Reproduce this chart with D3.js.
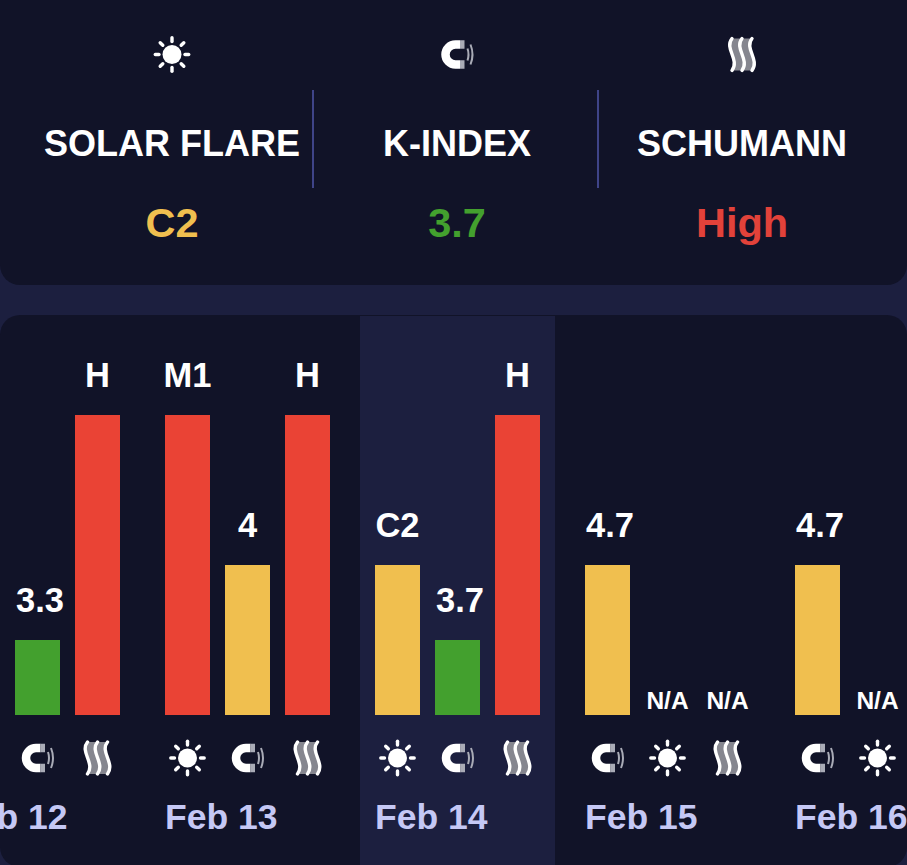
<!DOCTYPE html>
<html>
<head>
<meta charset="utf-8">
<script src="https://cdn.jsdelivr.net/npm/d3@7/dist/d3.min.js"></script>
<style>
  html, body { margin: 0; padding: 0; background: #1c1f3f; overflow: hidden; }
  svg { display: block; }
  text { font-family: "Liberation Sans", sans-serif; font-weight: 700; }
</style>
</head>
<body>
<svg id="chart" width="907" height="865"></svg>
<script>
const headerLabels = ["SOLAR FLARE", "K-INDEX", "SCHUMANN"];
const headerValues = ["C2", "3.7", "High"];
const headerKinds = ["solar", "kindex", "schumann"];
const headerColors = ["#f0bf4f", "#43a02e", "#e2423a"];

const days = ["Feb 12", "Feb 13", "Feb 14", "Feb 15", "Feb 16"];
const highlightDay = "Feb 14";

// one row per bar, slot is the position inside the day
const barDays = ["Feb 12", "Feb 12", "Feb 13", "Feb 13", "Feb 13", "Feb 14", "Feb 14", "Feb 14", "Feb 15", "Feb 15", "Feb 15", "Feb 16", "Feb 16"];
const barSlots = [1, 2, 0, 1, 2, 0, 1, 2, 0, 1, 2, 0, 1];
const barKinds = ["kindex", "schumann", "solar", "kindex", "schumann", "solar", "kindex", "schumann", "kindex", "solar", "schumann", "kindex", "solar"];
const barLabels = ["3.3", "H", "M1", "4", "H", "C2", "3.7", "H", "4.7", "N/A", "N/A", "4.7", "N/A"];
const barLevels = [1, 4, 4, 2, 4, 2, 1, 4, 2, 0, 0, 2, 0];

const levelColors = { 1: "#43a02e", 2: "#f0bf4f", 4: "#ea4335" };

const svg = d3.select("#chart");
const defs = svg.append("defs");

// icons, drawn around 0,0
const sun = defs.append("g").attr("id", "icon-solar");
sun.append("circle").attr("r", 9.5).attr("fill", "#fff");
d3.range(8).forEach((i) => {
  sun.append("line")
    .attr("y1", -13).attr("y2", -16.7)
    .attr("transform", `rotate(${i * 45})`)
    .attr("stroke", "#fff").attr("stroke-width", 3.4).attr("stroke-linecap", "round");
});

const magnet = defs.append("g").attr("id", "icon-kindex");
magnet.append("path")
  .attr("d", "M3 -10 H-1.5 A10 10 0 0 0 -1.5 10 H3")
  .attr("fill", "none").attr("stroke", "#fff").attr("stroke-width", 8.5);
magnet.append("path")
  .attr("d", "M3 -14.25 H7.5 V-5.75 H3 Z M3 5.75 H7.5 V14.25 H3 Z")
  .attr("fill", "#a9abb6");
magnet.append("path")
  .attr("d", "M10.5 -6 Q12.5 0 10.5 6 M13.5 -10 Q17.5 0 13.5 10")
  .attr("fill", "none").attr("stroke", "#a9abb6").attr("stroke-width", 2);

const waves = defs.append("g").attr("id", "icon-schumann");
const waveOffsets = [-10, 0, 10];
const waveLine = (dx) => `C${dx - 8} -6 ${dx + 8} 5 ${dx} 16`;
waveOffsets.slice(1).forEach((dx) => {
  waves.append("path")
    .attr("d", `M${dx - 10} -16 ${waveLine(dx - 10)} H${dx} C${dx + 8} 5 ${dx - 8} -6 ${dx} -16 Z`)
    .attr("fill", "#85868f");
});
waveOffsets.forEach((dx) => {
  waves.append("path")
    .attr("d", `M${dx} -16 ${waveLine(dx)}`)
    .attr("fill", "none").attr("stroke", "#fff").attr("stroke-width", 3.4).attr("stroke-linecap", "round");
});

// panels
svg.append("rect").attr("x", 0).attr("y", -30).attr("width", 907).attr("height", 315).attr("rx", 20).attr("fill", "#111328");
svg.append("rect").attr("x", 0).attr("y", 315).attr("width", 907).attr("height", 552).attr("rx", 20).attr("fill", "#111328");

// header
const headerX = d3.scalePoint().domain(headerLabels).range([172, 742]);
const header = svg.append("g").selectAll("g").data(headerLabels).join("g")
  .attr("transform", (d) => `translate(${headerX(d)},0)`);
header.append("use").attr("href", (d, i) => `#icon-${headerKinds[i]}`).attr("y", 54.5);
header.append("text").attr("y", 155.5).attr("text-anchor", "middle").attr("fill", "#fff").attr("font-size", 36).text((d) => d);
header.append("text").attr("y", 237).attr("text-anchor", "middle").attr("font-size", 41.5)
  .attr("fill", (d, i) => headerColors[i]).text((d, i) => headerValues[i]);

svg.append("g").selectAll("line").data(headerLabels.slice(1)).join("line")
  .attr("x1", (d) => headerX(d) - 144).attr("x2", (d) => headerX(d) - 144)
  .attr("y1", 90).attr("y2", 188)
  .attr("stroke", "#3f4488").attr("stroke-width", 2);

// chart scales
const dayX = d3.scaleBand().domain(days).range([-60, 990]);
const slotX = d3.scaleBand().domain([0, 1, 2]).range([15, 180]).paddingInner(0.25).paddingOuter(0);
const y = d3.scaleLinear().domain([0, 4]).range([715, 415]);

svg.append("rect")
  .attr("x", dayX(highlightDay)).attr("width", dayX.bandwidth() - 15)
  .attr("y", 316).attr("height", 549)
  .attr("fill", "#1c1f3f");

const barX = (i) => dayX(barDays[i]) + slotX(barSlots[i]);
const rows = d3.range(barDays.length);

svg.append("g").selectAll("rect").data(rows).join("rect")
  .attr("x", barX).attr("width", slotX.bandwidth())
  .attr("y", (i) => y(barLevels[i])).attr("height", (i) => y(0) - y(barLevels[i]))
  .attr("fill", (i) => levelColors[barLevels[i]] || "none");

// decimals sit a little right of the bar centre in the original
svg.append("g").selectAll("text").data(rows).join("text")
  .attr("x", (i) => barX(i) + slotX.bandwidth() / 2)
  .attr("dx", (i) => (barLabels[i].includes(".") ? 2.5 : 0))
  .attr("y", (i) => y(barLevels[i]) - (barLevels[i] ? 28 : 6))
  .attr("text-anchor", "middle").attr("fill", "#fff")
  .attr("font-size", (i) => (barLevels[i] ? 34.5 : 24.5))
  .text((i) => barLabels[i]);

svg.append("g").selectAll("use").data(rows).join("use")
  .attr("href", (i) => `#icon-${barKinds[i]}`)
  .attr("x", (i) => barX(i) + slotX.bandwidth() / 2)
  .attr("y", 758);

svg.append("g").selectAll("text").data(days).join("text")
  .attr("x", (d) => dayX(d) + 15).attr("y", 829)
  .attr("fill", "#c5c8f5").attr("font-size", 35.5)
  .text((d) => d);
</script>
</body>
</html>
